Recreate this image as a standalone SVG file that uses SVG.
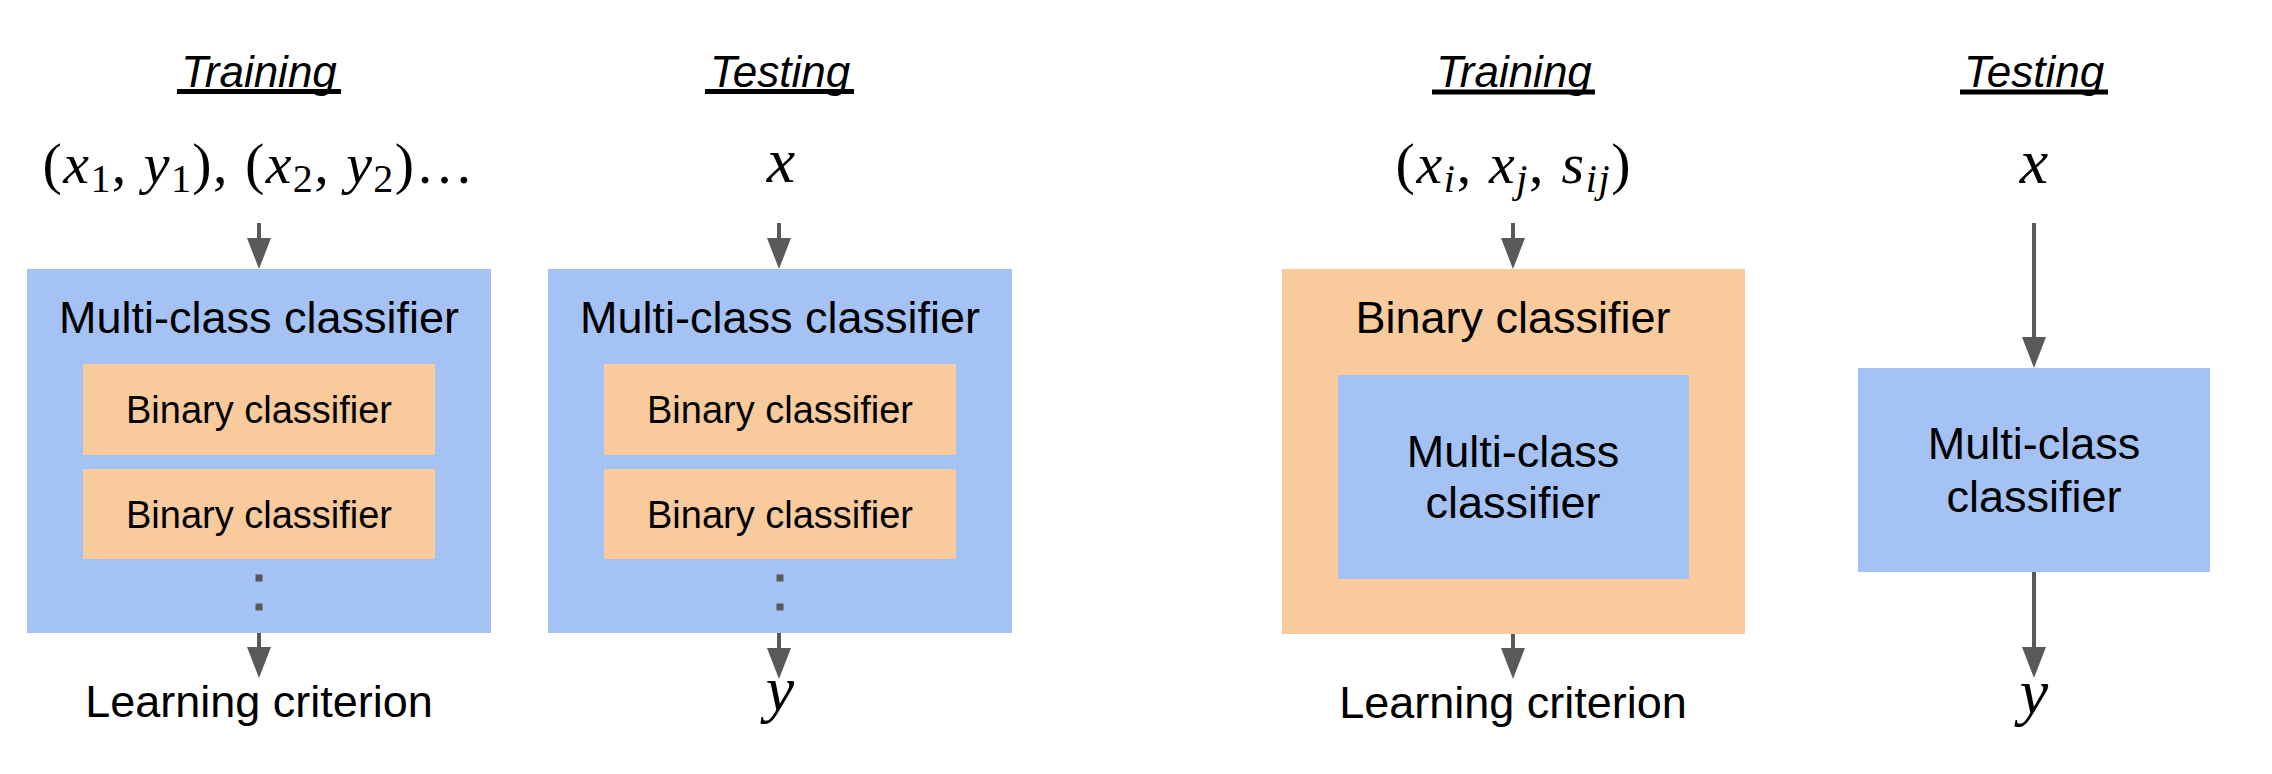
<svg xmlns="http://www.w3.org/2000/svg" width="2272" height="774" viewBox="0 0 2272 774">
<style>
.blue{fill:#a4c2f4}
.orange{fill:#f9cb9c}
.t{font-family:"Liberation Sans",Arial,sans-serif;fill:#000;text-anchor:middle}
.big{font-size:45px}
.small{font-size:38px}
.title{font-family:"Liberation Sans",Arial,sans-serif;font-style:italic;font-size:44px;text-anchor:middle}
.ul{stroke:#000;stroke-width:5}
.math{font-family:"Liberation Serif","Times New Roman",serif;font-size:58px;text-anchor:middle;fill:#000}
.it{font-style:italic}
.sub{font-size:40px}
.conn line{stroke:#595959;stroke-width:4;marker-end:url(#ah)}
.dot{fill:#595959}
</style>
<defs>
<marker id="ah" viewBox="0 0 31 24" refX="6" refY="12" markerWidth="31" markerHeight="24" markerUnits="userSpaceOnUse" orient="auto">
<path d="M0,0 L31,12 L0,24 Z" fill="#595959"/>
</marker>
</defs>
<rect width="2272" height="774" fill="#fff"/>

<g id="panel1-title">
<text class="title" x="259" y="87">Training</text>
<line class="ul" x1="177" y1="91.5" x2="341" y2="91.5"/>
</g>
<g id="panel1-input">
<text class="math" x="258" y="183" textLength="431" lengthAdjust="spacing">(<tspan class="it">x</tspan><tspan class="sub" dy="9">1</tspan><tspan dy="-9">, </tspan><tspan class="it">y</tspan><tspan class="sub" dy="9">1</tspan><tspan dy="-9">), (</tspan><tspan class="it">x</tspan><tspan class="sub" dy="9">2</tspan><tspan dy="-9">, </tspan><tspan class="it">y</tspan><tspan class="sub" dy="9">2</tspan><tspan dy="-9">)…</tspan></text>
</g>
<g id="panel1-multiclass">
<rect class="blue" x="27" y="269" width="464" height="364"/>
<text class="t big" x="259" y="333">Multi-class classifier</text>
</g>
<g id="panel1-binary1">
<rect class="orange" x="83" y="364" width="352" height="91"/>
<text class="t small" x="259" y="423">Binary classifier</text>
</g>
<g id="panel1-binary2">
<rect class="orange" x="83" y="469" width="352" height="90"/>
<text class="t small" x="259" y="528">Binary classifier</text>
</g>
<g id="panel1-dots">
<rect class="dot" x="255.5" y="574.5" width="7" height="7"/>
<rect class="dot" x="255.5" y="603.5" width="7" height="7"/>
</g>
<g id="panel1-output">
<text class="t big" x="259" y="717">Learning criterion</text>
</g>

<g id="panel2-title">
<text class="title" x="780" y="87">Testing</text>
<line class="ul" x1="705" y1="91.5" x2="854" y2="91.5"/>
</g>
<g id="panel2-input">
<text class="math it" x="781" y="182" style="font-size:64px">x</text>
</g>
<g id="panel2-multiclass">
<rect class="blue" x="548" y="269" width="464" height="364"/>
<text class="t big" x="780" y="333">Multi-class classifier</text>
</g>
<g id="panel2-binary1">
<rect class="orange" x="604" y="364" width="352" height="91"/>
<text class="t small" x="780" y="423">Binary classifier</text>
</g>
<g id="panel2-binary2">
<rect class="orange" x="604" y="469" width="352" height="90"/>
<text class="t small" x="780" y="528">Binary classifier</text>
</g>
<g id="panel2-dots">
<rect class="dot" x="776.5" y="574.5" width="7" height="7"/>
<rect class="dot" x="776.5" y="603.5" width="7" height="7"/>
</g>
<g id="panel2-output">
<text class="math it" x="780" y="710" style="font-size:64px">y</text>
</g>

<g id="panel3-title">
<text class="title" x="1514" y="87">Training</text>
<line class="ul" x1="1432" y1="92" x2="1595" y2="92"/>
</g>
<g id="panel3-input">
<text class="math" x="1513" y="183" textLength="235" lengthAdjust="spacing">(<tspan class="it">x</tspan><tspan class="sub it" dy="9">i</tspan><tspan dy="-9">, </tspan><tspan class="it">x</tspan><tspan class="sub it" dy="9">j</tspan><tspan dy="-9">, </tspan><tspan class="it">s</tspan><tspan class="sub it" dy="9">ij</tspan><tspan dy="-9">)</tspan></text>
</g>
<g id="panel3-binary">
<rect class="orange" x="1282" y="269" width="463" height="365"/>
<text class="t big" x="1513" y="333">Binary classifier</text>
</g>
<g id="panel3-multiclass">
<rect class="blue" x="1338" y="375" width="351" height="204"/>
<text class="t big" x="1513" y="467">Multi-class</text>
<text class="t big" x="1513" y="518">classifier</text>
</g>
<g id="panel3-output">
<text class="t big" x="1513" y="718">Learning criterion</text>
</g>

<g id="panel4-title">
<text class="title" x="2034" y="87">Testing</text>
<line class="ul" x1="1960" y1="92" x2="2108" y2="92"/>
</g>
<g id="panel4-input">
<text class="math it" x="2034" y="183" style="font-size:64px">x</text>
</g>
<g id="panel4-multiclass">
<rect class="blue" x="1858" y="368" width="352" height="204"/>
<text class="t big" x="2034" y="459">Multi-class</text>
<text class="t big" x="2034" y="512">classifier</text>
</g>
<g id="panel4-output">
<text class="math it" x="2034" y="713" style="font-size:64px">y</text>
</g>

<g id="connectors" class="conn">
<line x1="259" y1="223" x2="259" y2="244"/>
<line x1="259" y1="633" x2="259" y2="653"/>
<line x1="779" y1="223" x2="779" y2="244"/>
<line x1="779" y1="633" x2="779" y2="654"/>
<line x1="1513" y1="223" x2="1513" y2="244"/>
<line x1="1513" y1="634" x2="1513" y2="654"/>
<line x1="2034" y1="223" x2="2034" y2="343"/>
<line x1="2034" y1="572" x2="2034" y2="653"/>
</g>
</svg>
